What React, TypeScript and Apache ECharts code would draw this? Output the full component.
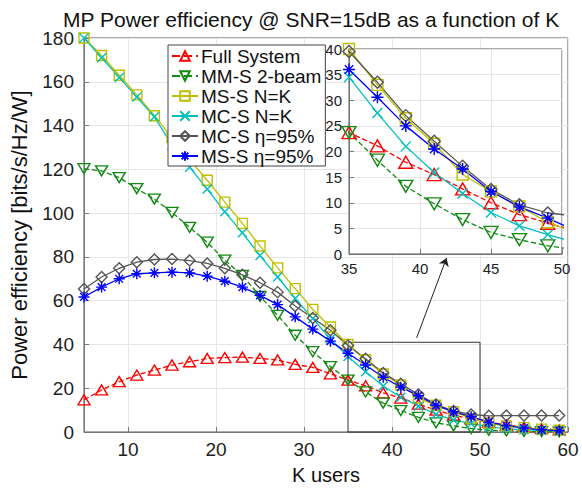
import React, { useEffect, useRef } from "react";
import * as echarts from "echarts";

const kUsers = [5, 7, 9, 11, 13, 15, 17, 19, 21, 23, 25, 27, 29, 31, 33, 35, 37, 39, 41, 43, 45, 47, 49, 51, 53, 55, 57, 59];
const fullSystem = [14.7, 19.2, 23, 26, 28.3, 30.6, 32.1, 33.6, 34, 34.2, 33.6, 32.9, 30.9, 29.5, 26.6, 23.7, 21.1, 17.9, 15.5, 12.7, 10, 7.7, 6, 4.5, 3.2, 2.2, 1.5, 1.0];
const mmS2beam = [120.3, 119.3, 116.2, 111.2, 106.4, 100.3, 93.5, 86.7, 78.5, 71.5, 62, 53.3, 44.2, 36.7, 29.9, 23.7, 18.3, 13.2, 9.8, 6.7, 4.2, 2.8, 1.6, 0.8, 0.5, 0.3, 0.2, 0.1];
const msSNK = [180, 172, 163, 154, 144.5, 134.5, 124.5, 115, 105, 95.3, 85, 75, 65.5, 56, 48, 40, 33, 26.5, 21.5, 15.5, 12.2, 9.3, 6.2, 4, 2.8, 2, 1.3, 0.8];
const mcSNK = [180, 171, 162, 153, 144, 131, 121, 111, 100.6, 91, 80.6, 70.8, 61, 51.8, 42.5, 34.5, 27.5, 21, 15.9, 11.8, 8.1, 5.5, 3.8, 2.2, 1.5, 1, 0.7, 0.4];
const mcSEta = [65.3, 70.8, 74.8, 77.6, 78.8, 79, 78.3, 77, 74.8, 71.8, 68.2, 63.9, 57.6, 52.1, 46.5, 39.5, 33.5, 27, 22, 17.1, 12.6, 9.6, 8, 7.4, 7.5, 7.5, 7.5, 7.5];
const msSEta = [61.7, 66.2, 70, 72.3, 72.7, 73, 72.7, 71.2, 68.9, 66.2, 62.4, 58.2, 52.6, 47, 41.5, 36, 30.6, 25, 20.5, 16.6, 12.2, 9.2, 7, 4.5, 2.9, 1.8, 1.0, 0.6];

const seriesNames = ["Full System", "MM-S 2-beam", "MS-S N=K", "MC-S N=K", "MC-S η=95%", "MS-S η=95%"];
const zoomBox = [35, 50, 0, 41]; // xMin, xMax, yMin, yMax
const arrowFrom = [42.8, 43];
const arrowTo = [46.2, 79.5];

const X_PATH = "path://M0,0L10,10M0,10L10,0";
const STAR_PATH = "path://M5,0L5,10M0,5L10,5M1.5,1.5L8.5,8.5M8.5,1.5L1.5,8.5";

const FONT = "Liberation Sans, Arial, sans-serif";

export default function App() {
  const ref = useRef<HTMLDivElement>(null);

  useEffect(() => {
    if (!ref.current) return;
    document.body.style.margin = "0";
    const chart = echarts.init(ref.current, null, { renderer: "svg" });

    const styles = [
      { data: fullSystem, color: "#ff0000", symbol: "triangle", rotate: 0, dash: "dashed", size: [12, 10], inset: [14, 12], fill: false },
      { data: mmS2beam, color: "#138a13", symbol: "triangle", rotate: 180, dash: "dashed", size: [12, 10], inset: [14, 12], fill: false },
      { data: msSNK, color: "#bfbf00", symbol: "rect", rotate: 0, dash: "solid", size: [10, 10], inset: [11, 11], fill: false },
      { data: mcSNK, color: "#00bfbf", symbol: X_PATH, rotate: 0, dash: "solid", size: [9, 9], inset: [10, 10], fill: true },
      { data: mcSEta, color: "#555555", symbol: "diamond", rotate: 0, dash: "solid", size: [11, 11], inset: [12, 12], fill: false },
      { data: msSEta, color: "#0000ff", symbol: STAR_PATH, rotate: 0, dash: "solid", size: [11, 11], inset: [12, 12], fill: true },
    ];

    const mkSeries = (i: number, inset: boolean) => {
      const s = styles[i];
      const base: any = {
        type: "line",
        name: seriesNames[i],
        xAxisIndex: inset ? 1 : 0,
        yAxisIndex: inset ? 1 : 0,
        data: kUsers.map((k, j) => [k, s.data[j]]),
        symbol: s.symbol,
        symbolRotate: s.rotate,
        symbolSize: inset ? s.inset : s.size,
        showAllSymbol: true,
        clip: true,
        z: inset ? 6 : 2,
        lineStyle: { color: s.color, width: 1.3, type: s.dash },
        itemStyle: {
          color: s.fill ? s.color : "rgba(0,0,0,0)",
          borderColor: s.color,
          borderWidth: 1.4,
        },
        emphasis: { disabled: true },
      };
      return base;
    };

    const series: any[] = [];
    for (let i = 0; i < 6; i++) series.push(mkSeries(i, false));
    for (let i = 0; i < 6; i++) series.push(mkSeries(i, true));

    series[0].markArea = {
      silent: true,
      itemStyle: { color: "rgba(0,0,0,0)", borderColor: "#333", borderWidth: 1 },
      data: [[{ coord: [zoomBox[0], zoomBox[2]] }, { coord: [zoomBox[1], zoomBox[3]] }]],
    };
    series[0].markLine = {
      silent: true,
      symbol: ["none", "arrow"],
      symbolSize: 8,
      label: { show: false },
      lineStyle: { color: "#222", type: "solid", width: 1 },
      data: [[{ coord: arrowFrom }, { coord: arrowTo }]],
    };

    const axisCommon = {
      axisLine: { show: true, lineStyle: { color: "#777", width: 1 } },
      axisTick: { show: true, inside: true, length: 5, lineStyle: { color: "#777" } },
      splitLine: { show: true, lineStyle: { color: "#e6e6e6", width: 1 } },
    };

    chart.setOption({
      animation: false,
      backgroundColor: "#ffffff",
      textStyle: { fontFamily: FONT },
      title: {
        text: "MP Power efficiency @ SNR=15dB as a function of K",
        left: 58,
        top: 4,
        textStyle: { fontSize: 21, fontWeight: "normal", color: "#111", fontFamily: FONT },
      },
      legend: {
        data: seriesNames,
        orient: "vertical",
        left: 168,
        top: 45,
        itemGap: 0,
        itemWidth: 26,
        itemHeight: 12,
        padding: [1, 4, 0, 3],
        backgroundColor: "#ffffff",
        borderColor: "#444",
        borderWidth: 1,
        z: 20,
        textStyle: { fontSize: 19, color: "#111", fontFamily: FONT, lineHeight: 20, padding: [0, 0, 0, -2] },
      },
      grid: [
        { left: 83, top: 38, width: 485, height: 396, show: true, borderColor: "#555", borderWidth: 1, backgroundColor: "rgba(0,0,0,0)", containLabel: false },
        { left: 349, top: 49, width: 213, height: 205, show: true, borderColor: "#555", borderWidth: 1, backgroundColor: "#ffffff", containLabel: false, z: 4 },
      ],
      xAxis: [
        {
          ...axisCommon,
          type: "value",
          gridIndex: 0,
          min: 5,
          max: 60,
          splitNumber: 5,
          name: "K users",
          nameLocation: "middle",
          nameGap: 33,
          nameTextStyle: { fontSize: 20, color: "#111", fontFamily: FONT },
          axisLabel: { fontSize: 19, color: "#222", margin: 8, showMinLabel: false, fontFamily: FONT },
        },
        {
          ...axisCommon,
          type: "value",
          gridIndex: 1,
          min: 35,
          max: 50,
          interval: 5,
          z: 5,
          axisLabel: { fontSize: 15, color: "#222", margin: 7, fontFamily: FONT },
        },
      ],
      yAxis: [
        {
          ...axisCommon,
          type: "value",
          gridIndex: 0,
          min: 0,
          max: 180,
          interval: 20,
          name: "Power efficiency [bits/s/Hz/W]",
          nameLocation: "middle",
          nameGap: 54,
          nameTextStyle: { fontSize: 22, color: "#111", fontFamily: FONT },
          axisLabel: { fontSize: 19, color: "#222", margin: 10, fontFamily: FONT },
        },
        {
          ...axisCommon,
          type: "value",
          gridIndex: 1,
          min: 0,
          max: 40,
          interval: 5,
          z: 5,
          axisLabel: { fontSize: 15, color: "#222", margin: 7, fontFamily: FONT },
        },
      ],
      series,
    });

    return () => chart.dispose();
  }, []);

  return <div ref={ref} style={{ width: 582, height: 490 }} />;
}
